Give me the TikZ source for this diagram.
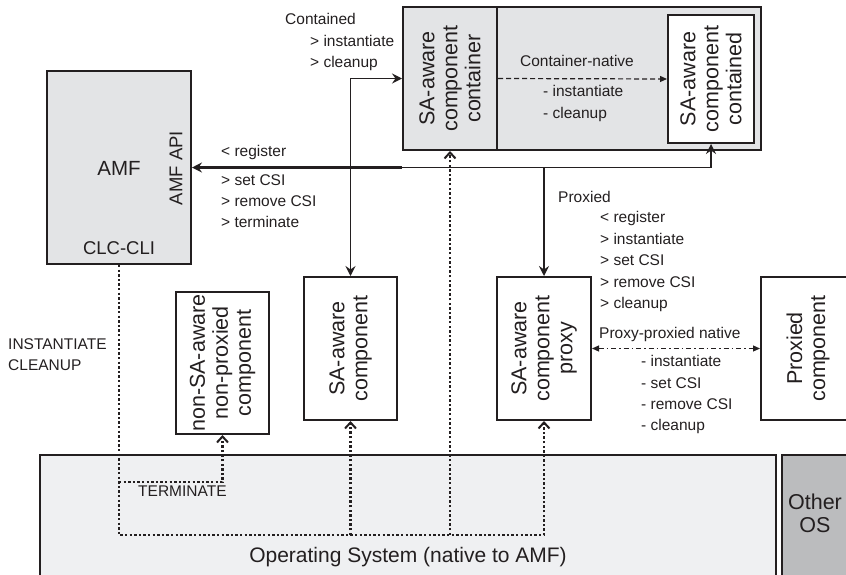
\documentclass[tikz,border=0pt]{standalone}
\usepackage{fontspec}
\setmainfont{Liberation Sans}
\usetikzlibrary{arrows.meta,positioning,calc}
\definecolor{amfgray}{HTML}{E3E4E6}
\definecolor{osgray}{HTML}{EFF0F2}
\definecolor{othergray}{HTML}{BBBCBE}
\definecolor{ink}{HTML}{231F20}

\begin{document}
\begin{tikzpicture}[x=1pt, y=-1pt,
		box/.style={draw=ink, line width=2pt, fill=white, inner sep=0pt},
		boxtxt/.style={rotate=90, align=center, inner sep=0pt, text=ink, font=\fontsize{21.5}{23}\selectfont},
		lbl/.style={anchor=west, inner sep=0pt, text=ink, text height=11pt, text depth=3.5pt, font=\fontsize{15.5}{21}\selectfont},
		conn/.style={draw=ink, line width=1.2pt, >={Stealth[length=10pt,width=10pt,inset=3.5pt]}},
		dotline/.style={draw=ink, line width=2.6pt, dash pattern=on 2.4pt off 2.2pt, >={Straight Barb[length=6pt,width=11pt,line width=2pt]}},
		dashline/.style={draw=ink, line width=1.2pt, dash pattern=on 5pt off 3pt, >={Triangle[length=7pt,width=6pt]}},
		dashdotline/.style={draw=ink, line width=1.2pt, dash pattern=on 5pt off 3pt on 1.5pt off 3pt, >={Triangle[length=7pt,width=6pt]}}]
			\clip (0,0) rectangle (846,574);
			
			% Operating systems
			\node[box, line width=1.5pt, fill=osgray, minimum width=736pt, minimum height=140pt] (os) at (408,525) {};
			\node[text=ink, font=\fontsize{21}{23}\selectfont] (ostxt) at (408,557) {Operating System (native to AMF)};
			\node[box, line width=1.5pt, fill=othergray, minimum width=80pt, minimum height=140pt] (other) at (822,525) {};
			\node[align=center, text=ink, font=\fontsize{21.5}{23}\selectfont] (othertxt) at (815,513) {Other\\OS};
			
			% AMF
			\node[box, fill=amfgray, minimum width=144pt, minimum height=193pt] (amf) at (119,167.5) {};
			\node[text=ink, font=\fontsize{20.5}{23}\selectfont] (amftxt) at (119,168) {AMF};
			\node[boxtxt, font=\fontsize{18.5}{21}\selectfont] (amfapi) at (176,168) {AMF API};
			\node[text=ink, font=\fontsize{18.5}{21}\selectfont] (clccli) at (119,248) {CLC-CLI};
			
			% Container and contained
			\node[box, fill=amfgray, minimum width=358pt, minimum height=143pt] (contbox) at (582,78.5) {};
			\node[box, fill=amfgray, minimum width=94pt, minimum height=143pt] (cont) at (450,78.5) {};
			\node[boxtxt] (conttxt) at (450,78.5) {SA-aware\\component\\container};
			\node[box, minimum width=86pt, minimum height=128pt] (contained) at (711,79) {};
			\node[boxtxt] (containedtxt) at (711,79) {SA-aware\\component\\contained};
			
			% Components
			\node[box, minimum width=93pt, minimum height=142pt] (nonaware) at (222.5,363) {};
			\node[boxtxt] (nonawaretxt) at (222.5,363) {non-SA-aware\\non-proxied\\component};
			\node[box, minimum width=93pt, minimum height=143pt] (aware) at (350.5,348.5) {};
			\node[boxtxt] (awaretxt) at (350.5,348.5) {SA-aware\\component};
			\node[box, minimum width=94pt, minimum height=143pt] (proxy) at (544,348.5) {};
			\node[boxtxt] (proxytxt) at (544,348.5) {SA-aware\\component\\proxy};
			\node[box, minimum width=94pt, minimum height=143pt] (proxied) at (808,348.5) {};
			\node[boxtxt] (proxiedtxt) at (808,348.5) {Proxied\\component};
			
			% AMF API connections
			\draw[conn, line width=2.2pt, <-] (amf.east) -- (cont.west |- amf.east);
			\draw[conn, ->] (cont.west |- amf.east) -| (contained.south);
			\draw[conn, <->] (aware.north) |- (cont.west);
			\draw[conn, ->] (proxy.north |- amf.east) -- (proxy.north);
			\draw[dashline, ->] (cont.east) -- (contained.west);
			\draw[dashdotline, <->] (proxy.east) -- (proxied.west);
			
			% CLC-CLI connections
			\coordinate (bus) at (0,535);
			\coordinate (termbus) at (0,482);
			\draw[dotline, ->] (amf.south) |- (proxy.south |- bus) -- (proxy.south);
			\draw[dotline, ->] (aware.south |- bus) -- (aware.south);
			\draw[dotline, ->] (cont.south |- bus) -- (cont.south);
			\draw[dotline, ->] (amf.south |- termbus) -| (nonaware.south);
			
			% Labels
			\node[lbl] (contlbl) at (285,21) {Contained};
			\foreach \t [count=\i from 0] in {> instantiate, > cleanup}
				\node[lbl] (contop\i) at (310,43+21*\i) {\t};
			\node[lbl] (reglbl) at (221,153) {< register};
			\foreach \t [count=\i from 0] in {> set CSI, > remove CSI, > terminate}
				\node[lbl] (amfop\i) at (221,182+21*\i) {\t};
			\node[lbl, anchor=center] (cnlbl) at (577,63) {Container-native};
			\foreach \t [count=\i from 0] in {- instantiate, - cleanup}
				\node[lbl] (cnop\i) at (543,93+22*\i) {\t};
			\node[lbl] (pxlbl) at (558,199) {Proxied};
			\foreach \t [count=\i from 0] in {< register, > instantiate, > set CSI, > remove CSI, > cleanup}
				\node[lbl] (pxop\i) at (600,219+21.5*\i) {\t};
			\node[lbl] (ppnlbl) at (599,335) {Proxy-proxied native};
			\foreach \t [count=\i from 0] in {- instantiate, - set CSI, - remove CSI, - cleanup}
				\node[lbl] (ppnop\i) at (641,363+21.3*\i) {\t};
			\node[lbl] (instlbl) at (8,346) {INSTANTIATE};
			\node[lbl] (cleanlbl) at (8,367) {CLEANUP};
			\node[lbl] (termlbl) at (138,493) {TERMINATE};
		\end{tikzpicture}
\end{document}
